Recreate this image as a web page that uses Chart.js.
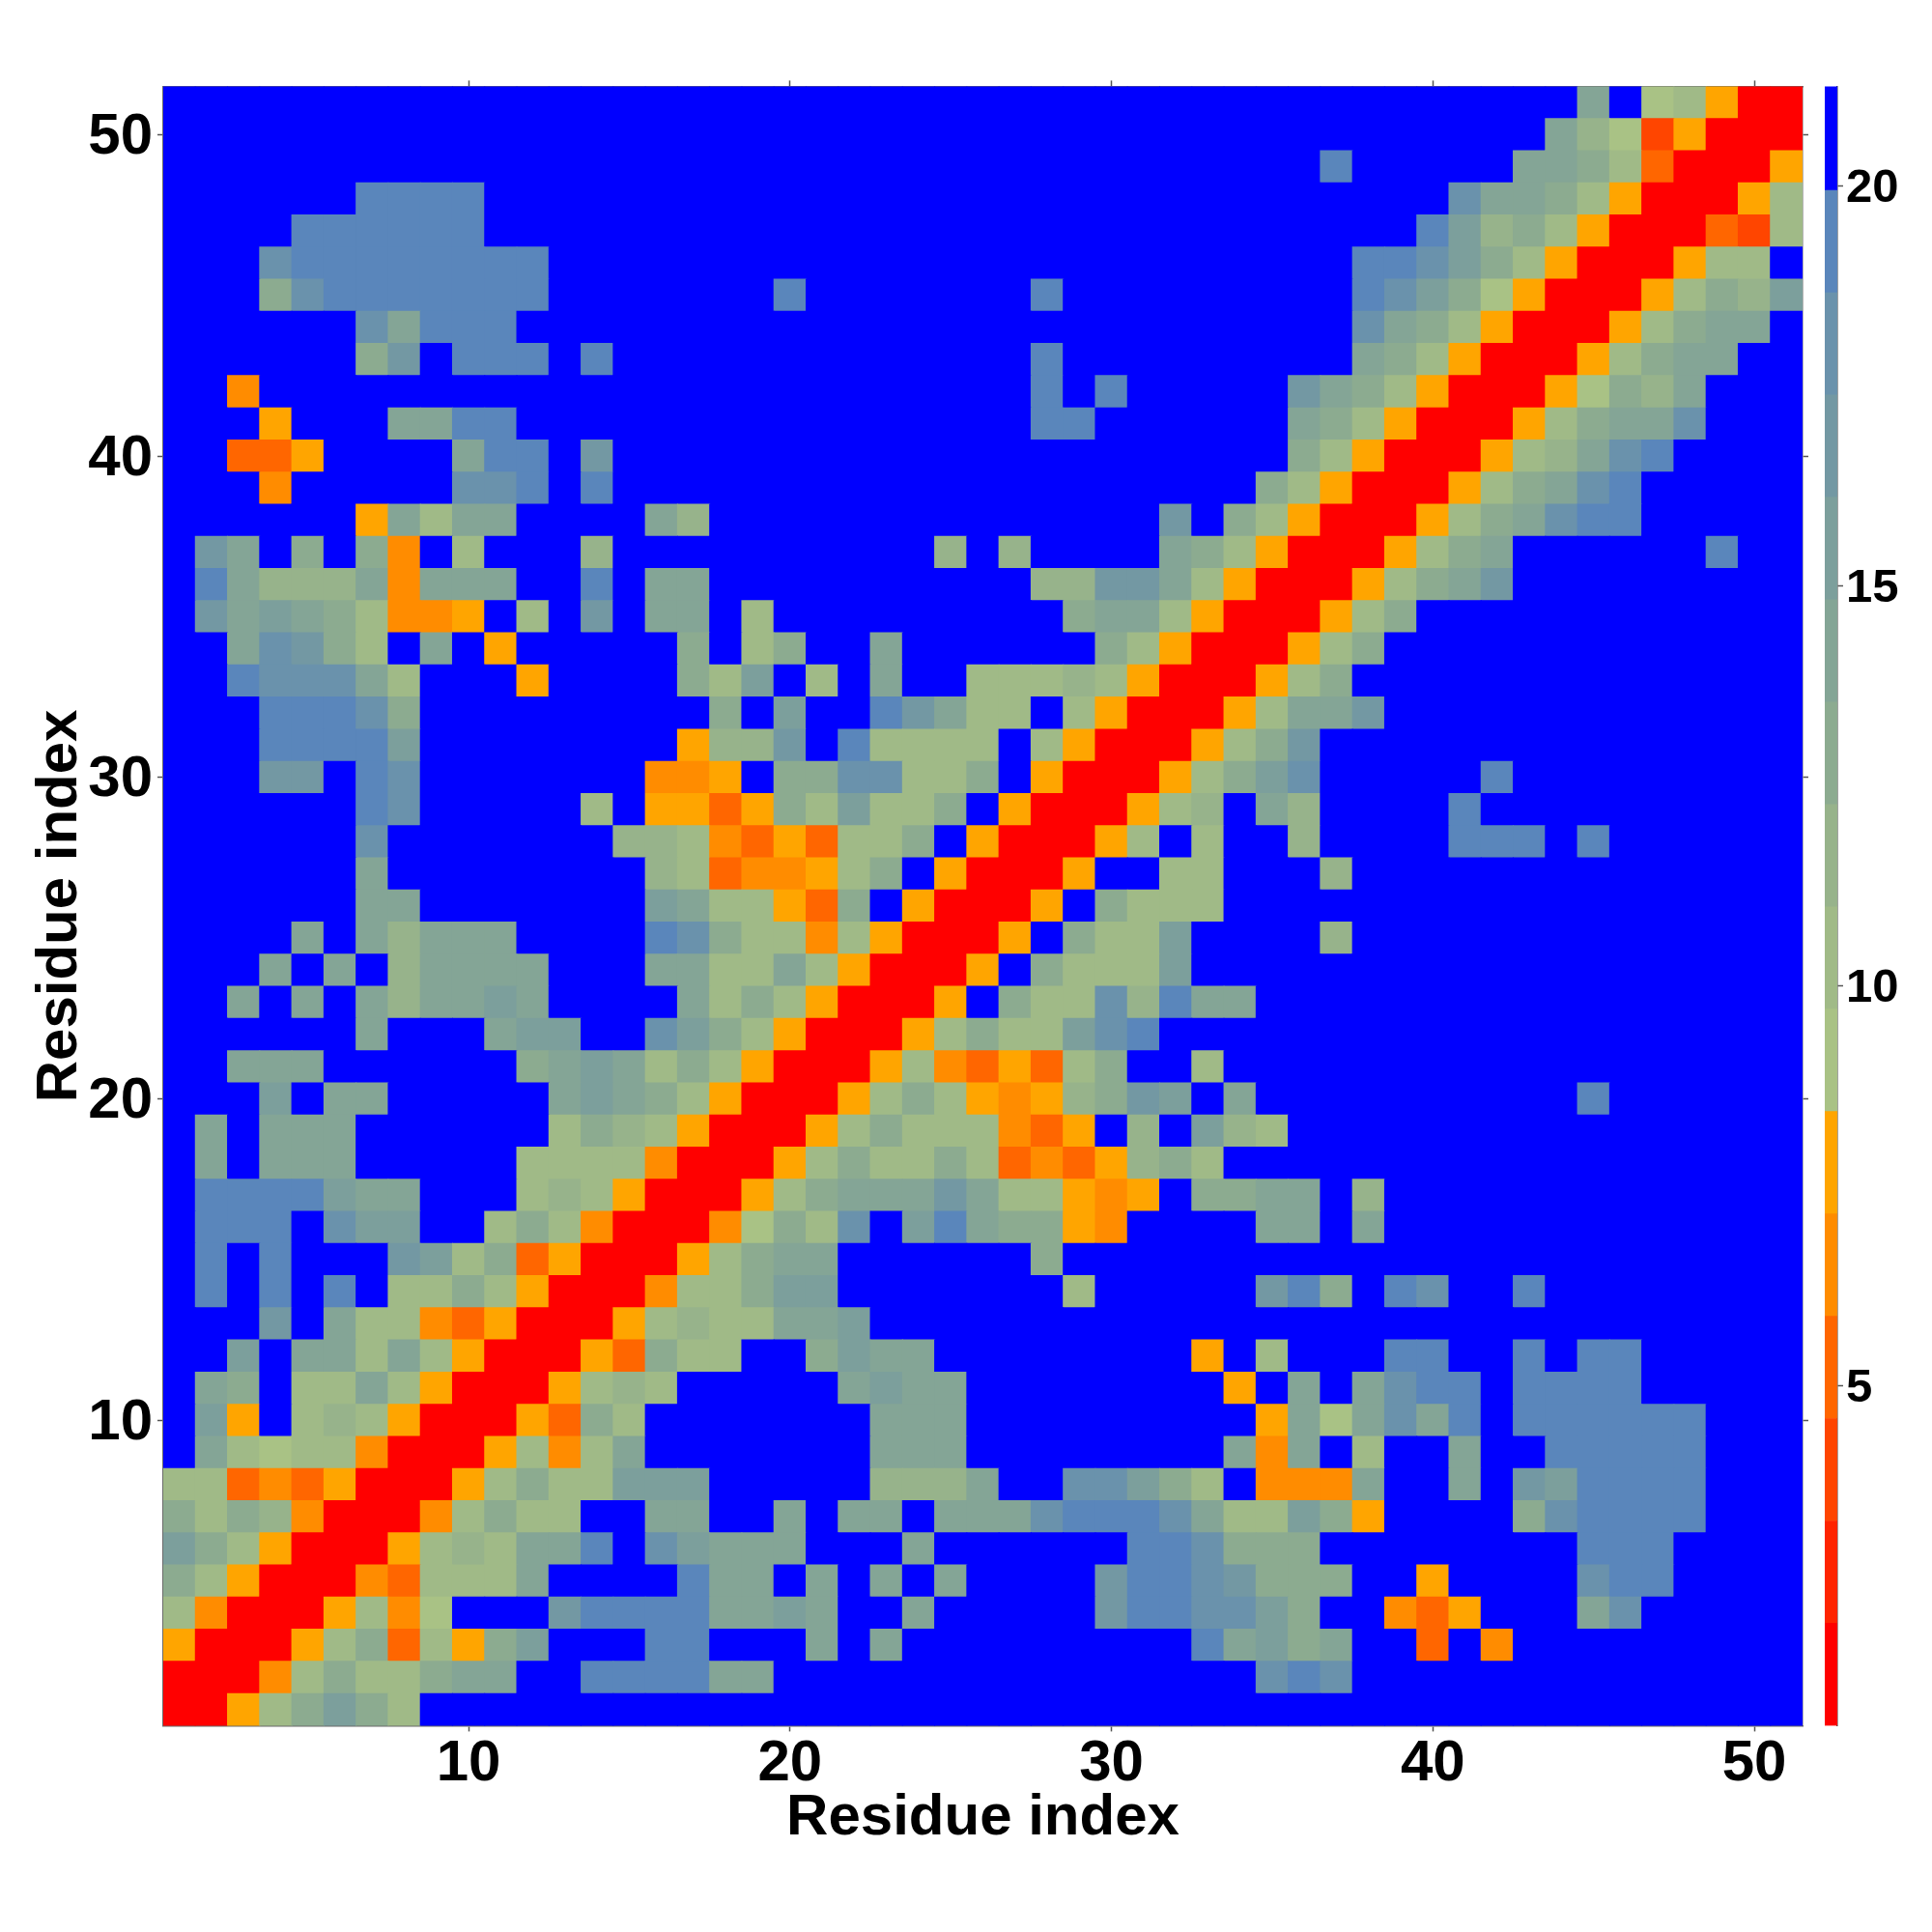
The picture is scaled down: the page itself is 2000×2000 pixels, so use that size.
<!DOCTYPE html>
<html>
<head>
<meta charset="utf-8">
<title>Residue distance map</title>
<script src="https://cdn.jsdelivr.net/npm/chart.js@4"></script>
<style>
  html, body { margin: 0; padding: 0; background: #fff; }
  canvas { position: absolute; top: 0; }
  #map { left: 0; }
  #bar { left: 1880px; }
</style>
</head>
<body>
<canvas id="map" width="2000" height="2000"></canvas>
<canvas id="bar" width="120" height="2000"></canvas>
<script>
const row51 = [21,21,21,21,21,21,21,21,21,21, 21,21,21,21,21,21,21,21,21,21, 21,21,21,21,21,21,21,21,21,21, 21,21,21,21,21,21,21,21,21,21, 21,21,21,21,14,21,9,10,8,1, 1];
const row50 = [21,21,21,21,21,21,21,21,21,21, 21,21,21,21,21,21,21,21,21,21, 21,21,21,21,21,21,21,21,21,21, 21,21,21,21,21,21,21,21,21,21, 21,21,21,14,12,9,4,8,1,1, 1];
const row49 = [21,21,21,21,21,21,21,21,21,21, 21,21,21,21,21,21,21,21,21,21, 21,21,21,21,21,21,21,21,21,21, 21,21,21,21,21,21,19,21,21,21, 21,21,14,14,13,10,5,1,1,1, 8];
const row48 = [21,21,21,21,21,21,19,19,19,19, 21,21,21,21,21,21,21,21,21,21, 21,21,21,21,21,21,21,21,21,21, 21,21,21,21,21,21,21,21,21,21, 18,14,14,13,10,8,1,1,1,8, 10];
const row47 = [21,21,21,21,19,19,19,19,19,19, 21,21,21,21,21,21,21,21,21,21, 21,21,21,21,21,21,21,21,21,21, 21,21,21,21,21,21,21,21,21,19, 16,12,13,10,8,1,1,1,5,4, 10];
const row46 = [21,21,21,18,19,19,19,19,19,19, 19,19,21,21,21,21,21,21,21,21, 21,21,21,21,21,21,21,21,21,21, 21,21,21,21,21,21,21,19,19,18, 16,13,10,8,1,1,1,8,10,10, 21];
const row45 = [21,21,21,13,18,19,19,19,19,19, 19,19,21,21,21,21,21,21,21,19, 21,21,21,21,21,21,21,19,21,21, 21,21,21,21,21,21,21,19,18,16, 13,9,8,1,1,1,8,10,13,12, 16];
const row44 = [21,21,21,21,21,21,18,14,19,19, 19,21,21,21,21,21,21,21,21,21, 21,21,21,21,21,21,21,21,21,21, 21,21,21,21,21,21,21,18,14,13, 10,8,1,1,1,8,10,13,14,14, 21];
const row43 = [21,21,21,21,21,21,13,17,21,19, 19,19,21,19,21,21,21,21,21,21, 21,21,21,21,21,21,21,19,21,21, 21,21,21,21,21,21,21,14,13,10, 8,1,1,1,8,10,13,14,14,21, 21];
const row42 = [21,21,7,21,21,21,21,21,21,21, 21,21,21,21,21,21,21,21,21,21, 21,21,21,21,21,21,21,19,21,19, 21,21,21,21,21,17,14,13,10,8, 1,1,1,8,9,13,12,14,21,21, 21];
const row41 = [21,21,21,8,21,21,21,14,14,19, 19,21,21,21,21,21,21,21,21,21, 21,21,21,21,21,21,21,19,19,21, 21,21,21,21,21,14,13,10,8,1, 1,1,8,10,13,14,14,18,21,21, 21];
const row40 = [21,21,5,5,8,21,21,21,21,14, 19,19,21,17,21,21,21,21,21,21, 21,21,21,21,21,21,21,21,21,21, 21,21,21,21,21,13,10,8,1,1, 1,8,10,12,14,18,19,21,21,21, 21];
const row39 = [21,21,21,7,21,21,21,21,21,18, 18,19,21,19,21,21,21,21,21,21, 21,21,21,21,21,21,21,21,21,21, 21,21,21,21,13,10,8,1,1,1, 8,10,13,14,18,19,21,21,21,21, 21];
const row38 = [21,21,21,21,21,21,8,14,10,14, 14,21,21,21,21,14,12,21,21,21, 21,21,21,21,21,21,21,21,21,21, 21,17,21,13,10,8,1,1,1,8, 10,13,14,18,19,19,21,21,21,21, 21];
const row37 = [21,17,14,21,13,21,13,7,21,10, 21,21,21,12,21,21,21,21,21,21, 21,21,21,21,12,21,12,21,21,21, 21,14,13,10,8,1,1,1,8,10, 13,14,21,21,21,21,21,21,19,21, 21];
const row36 = [21,19,14,12,12,12,14,7,14,14, 14,21,21,19,21,14,14,21,21,21, 21,21,21,21,21,21,21,12,12,17, 17,14,10,8,1,1,1,8,10,13, 14,17,21,21,21,21,21,21,21,21, 21];
const row35 = [21,17,14,16,14,13,10,7,7,8, 21,10,21,17,21,14,14,21,10,21, 21,21,21,21,21,21,21,21,13,14, 14,10,8,1,1,1,8,10,13,21, 21,21,21,21,21,21,21,21,21,21, 21];
const row34 = [21,21,14,18,17,13,10,21,14,21, 8,21,21,21,21,21,13,21,10,13, 21,21,14,21,21,21,21,21,21,13, 10,8,1,1,1,8,10,13,21,21, 21,21,21,21,21,21,21,21,21,21, 21];
const row33 = [21,21,19,18,18,18,14,10,21,21, 21,8,21,21,21,21,13,10,16,21, 10,21,14,21,21,10,10,10,12,10, 8,1,1,1,8,10,13,21,21,21, 21,21,21,21,21,21,21,21,21,21, 21];
const row32 = [21,21,21,19,19,19,18,13,21,21, 21,21,21,21,21,21,21,13,21,16, 21,21,19,17,14,10,10,21,10,8, 1,1,1,8,10,14,14,17,21,21, 21,21,21,21,21,21,21,21,21,21, 21];
const row31 = [21,21,21,19,19,19,19,16,21,21, 21,21,21,21,21,21,8,12,12,17, 21,19,10,10,10,10,21,10,8,1, 1,1,8,10,13,17,21,21,21,21, 21,21,21,21,21,21,21,21,21,21, 21];
const row30 = [21,21,21,17,17,21,19,18,21,21, 21,21,21,21,21,7,7,8,21,13, 13,18,18,10,10,13,21,8,1,1, 1,8,10,13,16,18,21,21,21,21, 21,19,21,21,21,21,21,21,21,21, 21];
const row29 = [21,21,21,21,21,21,19,18,21,21, 21,21,21,10,21,8,8,5,8,13, 10,16,10,10,13,21,8,1,1,1, 8,10,12,21,14,12,21,21,21,21, 19,21,21,21,21,21,21,21,21,21, 21];
const row28 = [21,21,21,21,21,21,18,21,21,21, 21,21,21,21,12,12,10,7,5,8, 5,10,10,13,21,8,1,1,1,8, 10,21,10,21,21,12,21,21,21,21, 19,19,19,21,19,21,21,21,21,21, 21];
const row27 = [21,21,21,21,21,21,14,21,21,21, 21,21,21,21,21,12,10,5,7,7, 8,10,13,21,8,1,1,1,8,21, 21,10,10,21,21,21,12,21,21,21, 21,21,21,21,21,21,21,21,21,21, 21];
const row26 = [21,21,21,21,21,21,14,14,21,21, 21,21,21,21,21,16,14,10,10,8, 5,13,21,8,1,1,1,8,21,13, 10,10,10,21,21,21,21,21,21,21, 21,21,21,21,21,21,21,21,21,21, 21];
const row25 = [21,21,21,21,14,21,14,12,14,14, 14,21,21,21,21,19,18,13,10,10, 7,10,8,1,1,1,8,21,13,10, 10,16,21,21,21,21,12,21,21,21, 21,21,21,21,21,21,21,21,21,21, 21];
const row24 = [21,21,21,14,21,14,21,12,14,14, 14,14,21,21,21,14,14,10,10,14, 10,8,1,1,1,8,21,13,10,10, 10,16,21,21,21,21,21,21,21,21, 21,21,21,21,21,21,21,21,21,21, 21];
const row23 = [21,21,14,21,14,21,14,12,14,14, 16,14,21,21,21,21,14,10,13,10, 8,1,1,1,8,21,13,10,10,18, 12,19,14,14,21,21,21,21,21,21, 21,21,21,21,21,21,21,21,21,21, 21];
const row22 = [21,21,21,21,21,21,14,21,21,21, 14,16,16,21,21,18,16,13,10,8, 1,1,1,8,10,13,10,10,16,18, 19,21,21,21,21,21,21,21,21,21, 21,21,21,21,21,21,21,21,21,21, 21];
const row21 = [21,21,14,14,14,21,21,21,21,21, 21,13,14,16,14,10,13,10,8,1, 1,1,8,10,7,5,8,5,10,13, 21,21,10,21,21,21,21,21,21,21, 21,21,21,21,21,21,21,21,21,21, 21];
const row20 = [21,21,21,16,21,14,14,21,21,21, 21,21,14,16,14,13,10,8,1,1, 1,8,10,13,10,8,7,8,12,13, 17,16,21,14,21,21,21,21,21,21, 21,21,21,21,19,21,21,21,21,21, 21];
const row19 = [21,14,21,14,14,14,21,21,21,21, 21,21,10,13,12,10,8,1,1,1, 8,10,13,10,10,10,7,5,8,21, 12,21,16,12,10,21,21,21,21,21, 21,21,21,21,21,21,21,21,21,21, 21];
const row18 = [21,14,21,14,14,14,21,21,21,21, 21,10,10,10,10,7,1,1,1,8, 10,13,10,10,13,10,5,7,5,8, 12,13,10,21,21,21,21,21,21,21, 21,21,21,21,21,21,21,21,21,21, 21];
const row17 = [21,19,19,19,19,16,14,14,21,21, 21,10,12,10,8,1,1,1,8,10, 13,14,14,14,17,14,10,10,8,7, 8,21,13,13,14,14,21,12,21,21, 21,21,21,21,21,21,21,21,21,21, 21];
const row16 = [21,19,19,19,21,18,16,16,21,21, 10,13,10,7,1,1,1,7,9,13, 10,18,21,16,19,14,13,13,8,7, 21,21,21,21,14,14,21,14,21,21, 21,21,21,21,21,21,21,21,21,21, 21];
const row15 = [21,19,21,19,21,21,21,17,16,10, 13,5,8,1,1,1,8,10,13,14, 14,21,21,21,21,21,21,13,21,21, 21,21,21,21,21,21,21,21,21,21, 21,21,21,21,21,21,21,21,21,21, 21];
const row14 = [21,19,21,19,21,19,21,10,10,13, 10,8,1,1,1,7,10,10,13,16, 16,21,21,21,21,21,21,21,10,21, 21,21,21,21,17,19,13,21,19,18, 21,21,19,21,21,21,21,21,21,21, 21];
const row13 = [21,21,21,17,21,14,10,10,7,5, 8,1,1,1,8,10,12,10,10,14, 14,16,21,21,21,21,21,21,21,21, 21,21,21,21,21,21,21,21,21,21, 21,21,21,21,21,21,21,21,21,21, 21];
const row12 = [21,21,16,21,14,14,10,14,10,8, 1,1,1,8,5,13,10,10,21,21, 13,16,14,14,21,21,21,21,21,21, 21,21,8,21,10,21,21,21,19,19, 21,21,19,21,19,19,21,21,21,21, 21];
const row11 = [21,14,13,21,10,10,14,10,8,1, 1,1,8,10,12,10,21,21,21,21, 21,14,16,14,14,21,21,21,21,21, 21,21,21,8,21,14,21,14,18,19, 19,21,19,19,19,19,21,21,21,21, 21];
const row10 = [21,16,8,21,10,12,10,8,1,1, 1,8,5,13,10,21,21,21,21,21, 21,21,14,14,14,21,21,21,21,21, 21,21,21,21,8,14,9,14,18,14, 19,21,19,19,19,19,19,19,21,21, 21];
const row9 = [21,14,10,9,10,10,7,1,1,1, 8,10,7,10,14,21,21,21,21,21, 21,21,14,14,14,21,21,21,21,21, 21,21,21,14,7,14,21,10,21,21, 14,21,21,19,19,19,19,19,21,21, 21];
const row8 = [10,10,5,7,5,8,1,1,1,8, 10,13,10,10,16,16,16,21,21,21, 21,21,12,12,12,14,21,21,18,18, 16,13,10,21,7,7,7,14,21,21, 14,21,17,16,19,19,19,19,21,21, 21];
const row7 = [13,10,13,12,7,1,1,1,7,10, 13,10,10,21,21,14,14,21,21,14, 21,14,14,21,14,14,14,18,19,19, 19,18,14,10,10,16,13,8,21,21, 21,21,13,18,19,19,19,19,21,21, 21];
const row6 = [16,13,10,8,1,1,1,8,10,12, 10,14,14,19,21,18,16,14,14,14, 21,21,21,14,21,21,21,21,21,21, 19,19,18,13,13,13,21,21,21,21, 21,21,21,21,19,19,19,21,21,21, 21];
const row5 = [13,10,8,1,1,1,7,5,10,10, 10,14,21,21,21,21,19,14,14,21, 14,21,14,21,14,21,21,21,21,17, 19,19,18,17,13,13,13,21,21,8, 21,21,21,21,18,19,19,21,21,21, 21];
const row4 = [10,7,1,1,1,8,10,7,9,21, 21,21,17,19,19,19,19,14,14,16, 14,21,21,14,21,21,21,21,21,17, 19,19,18,18,16,13,21,21,7,5, 8,21,21,21,14,18,21,21,21,21, 21];
const row3 = [8,1,1,1,8,10,13,5,10,8, 13,16,21,21,21,19,19,21,21,21, 14,21,14,21,21,21,21,21,21,21, 21,21,19,14,16,13,14,21,21,5, 21,7,21,21,21,21,21,21,21,21, 21];
const row2 = [1,1,1,7,10,13,10,10,13,14, 14,21,21,19,19,19,19,14,14,21, 21,21,21,21,21,21,21,21,21,21, 21,21,21,21,18,19,18,21,21,21, 21,21,21,21,21,21,21,21,21,21, 21];
const row1 = [1,1,8,10,13,16,13,10,21,21, 21,21,21,21,21,21,21,21,21,21, 21,21,21,21,21,21,21,21,21,21, 21,21,21,21,21,21,21,21,21,21, 21,21,21,21,21,21,21,21,21,21, 21];

const rows = [row1,row2,row3,row4,row5,row6,row7,row8,row9,row10,row11,row12,row13,row14,row15,row16,row17,
  row18,row19,row20,row21,row22,row23,row24,row25,row26,row27,row28,row29,row30,row31,row32,row33,row34,
  row35,row36,row37,row38,row39,row40,row41,row42,row43,row44,row45,row46,row47,row48,row49,row50,row51];

// colour bar
const levelEdges = [0.75,2.03,3.31,4.59,5.87,7.15,8.43,9.71,10.99,12.27,13.55,14.83,16.11,17.39,18.67,19.95,21.25];
const levelColors = ['#ff0000','#ff2400','#ff4500','#ff6600','#ff8c00','#ffa500','#a9c285','#a0ba87',
  '#97b38b','#8cab90','#84a596','#7c9f9c','#7398a3','#6a92ac','#5a86bb','#0000ff'];
const mapTicks = [10,20,30,40,50];
const barTicks = [5,10,15,20];

const axisFont = {family: '"Liberation Sans", Arial, sans-serif', weight: 'bold', size: 60};
const barFont = {family: '"Liberation Sans", Arial, sans-serif', weight: 'bold', size: 49};

// vertical axis labels sit a little below the tick in the original
const nudgeLabels = {
    id: 'nudgeLabels',
    beforeDraw(chart){
        for(const id of ['y']){
            const axis = chart.scales[id];
            axis.getLabelItems(chart.chartArea).forEach(item => {
                item.options.translation[1] = axis.getPixelForValue(+item.label) + 3;
            });
        }
    }
};

function colorFor(v){
    for(let i = 0; i < levelColors.length; i++){
        if(v < levelEdges[i + 1]){ return levelColors[i]; }
    }
    return levelColors[levelColors.length - 1];
}

function fixedTicks(values){
    return axis => { axis.ticks = values.map(v => ({value: v})); };
}

function mapAxis(position, size, showLabels, extra){
    return Object.assign({
        type: 'linear',
        position: position,
        min: 0.5,
        max: 51.5,
        offset: false,
        afterBuildTicks: fixedTicks(mapTicks),
        afterFit: axis => {
            if(axis.isHorizontal()){ axis.height = size; } else { axis.width = size; }
        },
        border: {display: true, color: '#6b6b6b', width: 1.5},
        grid: {drawOnChartArea: false, offset: false, color: '#6b6b6b', tickLength: 6, tickWidth: 1.5, tickColor: '#555'},
        ticks: {
            display: showLabels,
            color: '#000',
            font: axisFont,
            padding: position === 'bottom' ? -2 : 5,
            maxRotation: 0,
            autoSkip: false
        }
    }, extra);
}

new Chart(document.getElementById('map'), {
    type: 'bar',
    plugins: [nudgeLabels],
    data: {
        datasets: rows.map((r, i) => ({
            data: r.map((v, c) => ({x: c + 1, y: [i + 0.5, i + 1.5]})),
            backgroundColor: r.map(colorFor),
            borderWidth: 0,
            inflateAmount: 0.5,
            barPercentage: 1,
            categoryPercentage: 1,
            grouped: false
        }))
    },
    options: {
        responsive: false,
        animation: false,
        devicePixelRatio: 1,
        layout: {padding: 0},
        plugins: {legend: {display: false}, tooltip: {enabled: false}},
        scales: {
            x: mapAxis('bottom', 213.6, true, {
                title: {display: true, text: 'Residue index', color: '#000', font: axisFont, padding: {top: 0, bottom: 82}}
            }),
            y: mapAxis('left', 169, true, {
                title: {display: true, text: 'Residue index', color: '#000', font: axisFont, padding: {top: 26, bottom: 0}}
            }),
            x2: mapAxis('top', 89.4, false),
            y2: mapAxis('right', 134, false)
        }
    }
});

new Chart(document.getElementById('bar'), {
    type: 'bar',
    plugins: [nudgeLabels],
    data: {
        labels: ['level'],
        datasets: levelColors.map((c, i) => ({
            data: [[levelEdges[i], levelEdges[i + 1]]],
            backgroundColor: c,
            borderWidth: 0,
            barPercentage: 1,
            categoryPercentage: 1,
            grouped: false
        }))
    },
    options: {
        responsive: false,
        animation: false,
        devicePixelRatio: 1,
        layout: {padding: {left: 9, top: 89.4, bottom: 213.6}},
        plugins: {legend: {display: false}, tooltip: {enabled: false}},
        scales: {
            x: {display: false},
            y: {
                type: 'linear',
                position: 'right',
                min: levelEdges[0],
                max: levelEdges[levelEdges.length - 1],
                afterBuildTicks: fixedTicks(barTicks),
                afterFit: axis => { axis.width = 98; },
                border: {display: true, color: '#444', width: 1.5},
                grid: {drawOnChartArea: false, tickLength: 6, tickWidth: 1.5, tickColor: '#555'},
                ticks: {color: '#000', font: barFont, padding: 3, align: 'center'}
            }
        }
    }
});
</script>
</body>
</html>
